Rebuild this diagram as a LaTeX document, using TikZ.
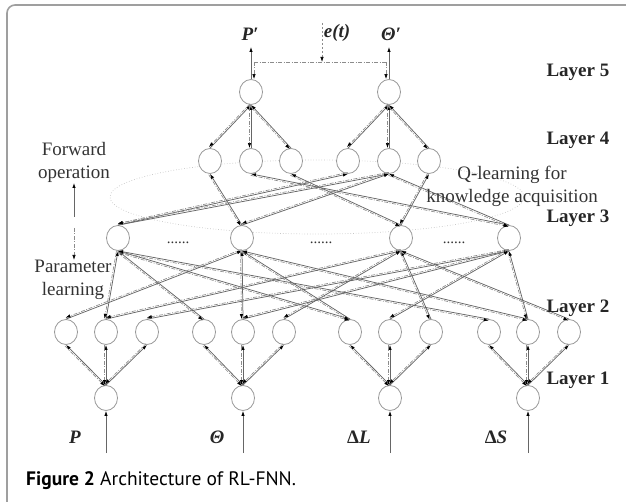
\documentclass[tikz,border=0pt]{standalone}
\usepackage{fontspec}
\setmainfont{Liberation Serif}
\newfontfamily\capfont{PT Sans}
\usetikzlibrary{calc, shapes.geometric, arrows.meta}

\newcommand{\pairlink}[2]{%
    \draw[fw] (#1.north) -- (#2.south);
    \draw[bw] ($(#2.south)!1.5pt!-90:(#1.north)$) -- ($(#1.north)!1.5pt!90:(#2.south)$);
}

\begin{document}
\begin{tikzpicture}[x=1pt, y=-1pt,
    nd/.style={ellipse, draw=gray!80, fill=white, line width=0.8pt, minimum width=23pt, minimum height=25pt, inner sep=0pt},
    fw/.style={draw=black!60, line width=0.75pt, -{Latex[length=5pt,width=3.4pt,color=black]}},
    bw/.style={draw=black!45, line width=0.65pt, dash pattern=on 4pt off 1.5pt on 1pt off 1.5pt, -{Latex[length=5pt,width=3.4pt,color=black]}},
    lay/.style={anchor=west, text=black!85, font=\fontsize{19}{22}\selectfont\bfseries},
    var/.style={text=black!85, font=\fontsize{19}{21}\selectfont\bfseries\itshape},
    note/.style={align=center, text=black!80, font=\fontsize{19}{23}\selectfont},
    dots/.style={text=black!80, font=\fontsize{15}{15}\selectfont}]

    \useasboundingbox (0,0) rectangle (626,502);
    \draw[gray!75, line width=1.6pt, rounded corners=8pt] (7,502) -- (7,5) -- (626,5);
    \draw[gray!45, dotted, line width=0.7pt] (317,197) ellipse [x radius=207pt, y radius=37pt];

    % layer 1
    \draw (106,398) node[nd](x1){};
    \draw (243,398) node[nd](x2){};
    \draw (390,398) node[nd](x3){};
    \draw (528,398) node[nd](x4){};

    % layer 2
    \draw (66,332)  node[nd](pa){};
    \draw (106,332) node[nd](pb){};
    \draw (147,332) node[nd](pc){};
    \draw (204,332) node[nd](ta){};
    \draw (243,332) node[nd](tb){};
    \draw (284,332) node[nd](tc){};
    \draw (350,332) node[nd](la){};
    \draw (390,332) node[nd](lb){};
    \draw (431,332) node[nd](lc){};
    \draw (489,332) node[nd](sa){};
    \draw (528,332) node[nd](sb){};
    \draw (569,332) node[nd](sc){};

    % layer 3
    \draw (118,238) node[nd](r1){};
    \draw (242,238) node[nd](r2){};
    \draw (401,238) node[nd](r3){};
    \draw (509,238) node[nd](r4){};
    \draw (178,243) node[dots](d1){......};
    \draw (321,243) node[dots](d2){......};
    \draw (454,243) node[dots](d3){......};

    % layer 4
    \draw (210,161) node[nd](o1){};
    \draw (251,161) node[nd](o2){};
    \draw (291,161) node[nd](o3){};
    \draw (348,161) node[nd](q1){};
    \draw (389,161) node[nd](q2){};
    \draw (429,161) node[nd](q3){};

    % layer 5
    \draw (251,92) node[nd](y1){};
    \draw (389,92) node[nd](y2){};

    \foreach \a/\b in {x1/pa,x1/pb,x1/pc,x2/ta,x2/tb,x2/tc,x3/la,x3/lb,x3/lc,x4/sa,x4/sb,x4/sc}
        {\pairlink{\a}{\b}}
    \foreach \a/\b in {pb/r1,ta/r1,la/r1,sa/r1,pa/r2,tb/r2,la/r2,sb/r2,
                       pb/r3,tc/r3,lc/r3,sc/r3,pc/r4,tb/r4,lb/r4,sb/r4}
        {\pairlink{\a}{\b}}
    \foreach \a/\b in {r1/q1,r1/q2,r2/o1,r2/q2,r3/o3,r3/q3,r4/o2,r4/q2}
        {\pairlink{\a}{\b}}
    \foreach \a/\b in {o1/y1,o2/y1,o3/y1,q1/y2,q2/y2,q3/y2}
        {\pairlink{\a}{\b}}

    % inputs and outputs
    \coordinate (i1) at (106,453);
    \coordinate (i2) at (243,453);
    \coordinate (i3) at (390,453);
    \coordinate (i4) at (528,453);
    \draw[fw] (i1) -- (x1.south);
    \draw[fw] (i2) -- (x2.south);
    \draw[fw] (i3) -- (x3.south);
    \draw[fw] (i4) -- (x4.south);
    \coordinate (u1) at (251,47);
    \coordinate (u2) at (389,47);
    \draw[fw] (y1.north) -- (u1);
    \draw[fw] (y2.north) -- (u2);
    \coordinate (e1) at (254,62);
    \coordinate (e2) at (386,62);
    \coordinate (et) at (322,23);
    \coordinate (em) at (322,62);
    \draw[bw, -] (e1) -- (e2);
    \draw[bw] (e1) -- (y1.north -| e1);
    \draw[bw] (e2) -- (y2.north -| e2);
    \draw[bw, dash pattern=on 2.5pt off 1.5pt] (et) -- (em);

    \draw (250,34) node[var](pp){P′};
    \draw (337,33) node[var](ee){e(t)};
    \draw (391,34) node[var](tp){Θ′};
    \draw (75,437)  node[var](pn){P};
    \draw (217,437) node[var](tn){Θ};
    \draw (359,437) node[var](ln){{\upshape Δ}L};
    \draw (496,437) node[var](sn){{\upshape Δ}S};

    \draw (543,72)  node[lay](l5){Layer 5};
    \draw (543,140) node[lay](l4){Layer 4};
    \draw (543,218) node[lay](l3){Layer 3};
    \draw (543,308) node[lay](l2){Layer 2};
    \draw (543,380) node[lay](l1){Layer 1};

    \draw (74,162) node[note](fwd){Forward\\operation};
    \draw (73,280) node[note](par){Parameter\\learning};
    \draw (512,186) node[note](ql){Q-learning for\\knowledge acquisition};
    \coordinate (f0) at (74,217);
    \coordinate (f1) at (74,183);
    \coordinate (f2) at (74,228);
    \coordinate (f3) at (74,260);
    \draw[fw] (f0) -- (f1);
    \draw[bw] (f2) -- (f3);

    \draw (26,485) node[anchor=base west, inner sep=0pt, font=\capfont\fontsize{19.5}{21}\selectfont](cap){\textbf{Figure 2} Architecture of RL-FNN.};
\end{tikzpicture}
\end{document}
